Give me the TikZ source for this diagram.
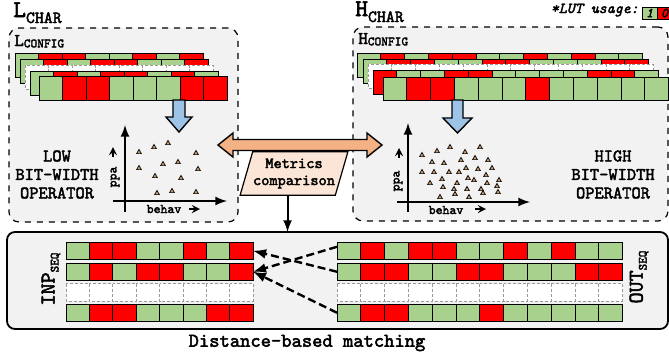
\documentclass[tikz,border=0pt]{standalone}
\usepackage{fontspec}
\setmainfont{lmmono10-regular.otf}[BoldFont=lmmono10-regular.otf, BoldFeatures={FakeBold=2.5}, ItalicFont=lmmono10-italic.otf, BoldItalicFont=lmmono10-italic.otf, BoldItalicFeatures={FakeBold=2.5}]
\usetikzlibrary{shapes,calc}

\definecolor{lut1}{HTML}{A9D18E}
\definecolor{lut0}{HTML}{FF0000}
\definecolor{boxgray}{HTML}{F2F2F2}
\definecolor{arrowblue}{HTML}{9DC3E6}
\definecolor{arroworange}{HTML}{F4B183}
\definecolor{peach}{HTML}{FBE5D6}
\definecolor{tribrown}{HTML}{C59A6D}

\tikzstyle{charbox} = [rectangle, rounded corners=5pt, draw=black, dashed, line width=0.6pt, fill=boxgray, inner sep=0pt, outer sep=0pt, anchor=north west]
\tikzstyle{seqbox} = [rectangle, rounded corners=4pt, draw=black, line width=0.9pt, fill=boxgray, inner sep=0pt, outer sep=0pt, anchor=north west]
\tikzstyle{rowframe} = [rectangle, inner sep=0pt, outer sep=0pt, anchor=north west]
\tikzstyle{cell} = [draw=black, line width=0.45pt]
\tikzstyle{blank} = [draw=black!40, line width=0.45pt, dash pattern=on 1.5pt off 1pt, fill=white]
\tikzstyle{blockarrow} = [draw=black, line width=0.7pt, line join=miter]
\tikzstyle{axis} = [-latex, line width=1pt]
\tikzstyle{hint} = [->, >=stealth, line width=0.8pt]
\tikzstyle{match} = [-latex, line width=1.2pt, dash pattern=on 4pt off 2pt]
\tikzstyle{tri} = [draw=black, fill=tribrown, line width=0.35pt]
\tikzstyle{metric} = [trapezium, trapezium left angle=74, trapezium right angle=106, trapezium stretches=true, minimum width=54pt, minimum height=17.5pt, draw=black, fill=peach, line width=0.6pt, align=center, inner xsep=0pt, font=\fontsize{7.8}{8.5}\selectfont\bfseries]
\tikzstyle{optext} = [align=center, font=\fontsize{8.8}{9.25}\selectfont\bfseries]
\tikzstyle{plottext} = [inner sep=0pt, font=\fontsize{6.6}{7}\selectfont\bfseries]
\tikzstyle{legendcell} = [rectangle, draw=black, line width=0.45pt, anchor=north west, inner sep=0pt, outer sep=0pt, minimum width=7.5pt, minimum height=6pt, font=\fontsize{6.8}{6.8}\selectfont\bfseries\itshape]

% big letter with a lowered index
\newcommand{\sublbl}[5]{{\fontsize{#3}{#3}\selectfont\bfseries #1}\raisebox{#5}{\fontsize{#4}{#4}\selectfont\bfseries #2}}

% row of LUT cells: name, north west corner, cells, cell width, cell height, bits
\newcommand{\cellrow}[6]{%
  \node (#1) [rowframe, minimum width=#3*#4*0.5pt, minimum height=#5*0.5pt] at (#2) {};
  \foreach \b [count=\i from 0] in {#6}
    \draw[cell, fill=lut\b] ($(#1.north west)+(\i*#4,0)$) rectangle ++(#4,#5);
}
\newcommand{\blankrow}[5]{%
  \node (#1) [rowframe, minimum width=#3*#4*0.5pt, minimum height=#5*0.5pt] at (#2) {};
  \foreach \i in {1,...,#3}
    \draw[blank] ($(#1.north west)+(\i*#4-#4,0)$) rectangle ++(#4,#5);
}

\begin{document}
\begin{tikzpicture}[x=0.5pt, y=-0.5pt, font=\bfseries]
    \useasboundingbox (0,0) rectangle (669,355);

    % characterisation boxes
    \node (lbox)[charbox, minimum width=114.5pt, minimum height=97pt] at (9,28) {};
    \node (hbox)[charbox, minimum width=157.5pt, minimum height=97pt] at (353,27) {};
    \node (lchar)[anchor=base west, inner sep=0pt] at (13,17) {\sublbl{L}{CHAR}{12}{8.5}{-3pt}};
    \node (hchar)[anchor=base west, inner sep=0pt] at (355,16) {\sublbl{H}{CHAR}{12}{8.5}{-3pt}};
    \node (lconf)[anchor=base west, inner sep=0pt] at (14,46) {\sublbl{L}{CONFIG}{9}{6.4}{-0.7pt}};
    \node (hconf)[anchor=base west, inner sep=0pt] at (358,44) {\sublbl{H}{CONFIG}{9}{6.4}{-0.7pt}};

    % legend
    \node (lutlbl)[anchor=base east, inner sep=0pt, font=\fontsize{7.6}{8}\selectfont\bfseries\itshape] at (639,13) {*LUT usage:};
    \node (lutone)[legendcell, fill=lut1] at (642,7) {1};
    \node (lutzero)[legendcell, fill=lut0] at (lutone.north east) {0};

    % low bit-width configurations
    \cellrow{lcfg1}{15,53}{8}{23.5}{24}{1,0,0,1,1,0,1,0}
    \cellrow{lcfg2}{20,59}{8}{23.5}{24}{1,0,1,0,0,1,1,0}
    \blankrow{lcfg3}{25,65}{8}{23.5}{24}
    \cellrow{lcfg4}{30,71}{8}{23.5}{24}{1,0,1,0,0,1,0,1}
    \cellrow{lcfg5}{39,76}{8}{23.5}{24}{1,0,0,1,1,1,0,0}

    % high bit-width configurations
    \cellrow{hcfg1}{357,53}{12}{23.8}{24}{1,0,1,0,0,1,1,0,1,0,1,1}
    \cellrow{hcfg2}{363,59}{12}{23.8}{24}{1,0,0,1,1,0,0,1,1,1,0,0}
    \blankrow{hcfg3}{368,64}{12}{23.8}{24}
    \cellrow{hcfg4}{373,70}{12}{23.8}{24}{0,1,1,0,0,1,1,1,1,0,0,1}
    \cellrow{hcfg5}{383,77}{12}{23.8}{23}{1,0,0,1,1,1,0,1,1,1,1,1}

    % block arrows
    \draw[blockarrow, fill=arrowblue] (173,100) -- (173,117) -- (166,117) -- (179,132) -- (192,117) -- (185,117) -- (185,100) -- cycle;
    \draw[blockarrow, fill=arrowblue] (452,100) -- (452,118) -- (443,118) -- (457.5,133) -- (472,118) -- (463,118) -- (463,100) -- cycle;

    % low plot
    \draw[axis] (125,212) -- (125,125);
    \draw[axis] (113,201) -- (227,201);
    \node (lppa)[plottext, rotate=90] at (115,177) {ppa};
    \draw[hint] (113,157) -- (113,147);
    \node (lbehav)[plottext] at (164,209) {behav};
    \draw[hint] (189,209) -- (200,209);
    \foreach \p in {(139,152),(154,147),(168,143),(196,153),(139,168),(163,164),(178,162),(198,169),(155,176),(181,178),(157,193),(172,191),(196,192)}
        \draw[tri] \p ++(0,-2.6) -- ++(2.4,4.2) -- ++(-4.8,0) -- cycle;
    \node (lowop)[optext] at (57,174.5) {LOW\\BIT-WIDTH\\OPERATOR};

    % high plot
    \draw[axis] (408,212) -- (408,123);
    \draw[axis] (397,202) -- (530,202);
    \node (hppa)[plottext, rotate=90] at (398,181) {ppa};
    \draw[hint] (399,158) -- (399,148);
    \node (hbehav)[plottext] at (446,210) {behav};
    \draw[hint] (475,209) -- (486,209);
    \foreach \p in {(422,155),(437,151),(450,147),(465,152),(480,147),(432,162),(444,163),(461,160),(475,158),(488,160),
                    (422,172),(434,172),(449,172),(459,172),(466,168),(478,169),(492,168),
                    (430,183),(442,179),(457,183),(468,178),(474,180),(486,175),(487,183),(499,180),
                    (443,187),(454,189),(467,189),(481,189),(497,186),(440,197),(455,194),(469,197),(483,193),(498,192)}
        \draw[tri] \p ++(0,-2.6) -- ++(2.4,4.2) -- ++(-4.8,0) -- cycle;
    \node (highop)[optext] at (613,174.5) {HIGH\\BIT-WIDTH\\OPERATOR};

    % comparison
    \draw[blockarrow, fill=arroworange] (218,145) -- (233,133) -- (233,139.5) -- (367,139.5) -- (367,133) -- (382,145)
        -- (367,157) -- (367,150.5) -- (233,150.5) -- (233,157) -- cycle;
    \node (metrics)[metric] at (294,173.5) {Metrics\\comparison};

    % matching
    \node (seq)[seqbox, minimum width=330.5pt, minimum height=48.5pt] at (7,232) {};
    \coordinate (mbot) at ($(metrics.bottom left corner)!0.5!(metrics.bottom right corner)$);
    \draw[-latex, line width=1pt] (mbot) -- (mbot |- seq.north);

    \cellrow{inp1}{66,242}{8}{23.4}{17.5}{1,0,0,1,1,0,1,0}
    \cellrow{inp2}{66,263}{8}{23.4}{17.5}{1,0,1,0,0,1,1,0}
    \blankrow{inp3}{66,283.5}{8}{23.4}{17.5}
    \cellrow{inp4}{66,304}{8}{23.4}{17.5}{1,0,0,1,1,1,0,0}

    \cellrow{out1}{337,242}{12}{23.8}{17.5}{1,0,1,0,0,1,1,0,1,0,1,1}
    \cellrow{out2}{337,263}{12}{23.8}{17.5}{1,0,0,1,1,0,0,1,1,1,0,0}
    \blankrow{out3}{337,283.5}{12}{23.8}{17.5}
    \cellrow{out4}{337,304}{12}{23.8}{17.5}{1,0,0,1,1,1,0,1,1,1,1,1}

    \node (inplbl)[rotate=90, inner sep=0pt] at (51,279) {\sublbl{INP}{SEQ}{10.5}{6.3}{-2pt}};
    \node (outlbl)[rotate=90, inner sep=0pt] at (639,277) {\sublbl{OUT}{SEQ}{10.5}{6.3}{-2pt}};

    \draw[match] ([yshift=2pt]out1.west) -- (inp2.east);
    \draw[match] (out2.west) -- (inp1.east);
    \draw[match] (out4.west) -- (inp2.east);

    \node (dist)[font=\fontsize{9.8}{10}\selectfont\bfseries] at (307,343) {Distance-based matching};

\end{tikzpicture}
\end{document}
